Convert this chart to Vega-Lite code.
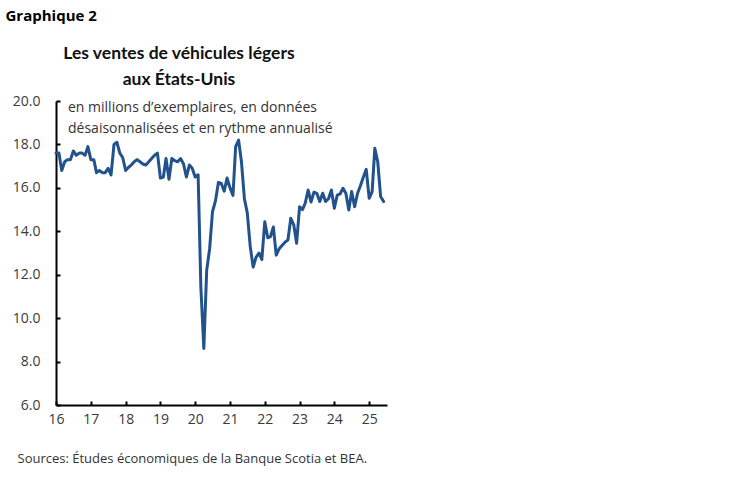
{
  "$schema": "https://vega.github.io/schema/vega-lite/v6.json",
  "width": 331,
  "height": 304,
  "autosize": "none",
  "padding": {"left": 56, "top": 101, "right": 362, "bottom": 77},
  "background": "white",
  "title": {
    "text": ["Les ventes de véhicules légers", "aux États-Unis"],
    "anchor": "start",
    "align": "center",
    "dx": 174,
    "dy": 94,
    "offset": 14,
    "font": "Lato",
    "fontSize": 17.5,
    "fontWeight": "bold",
    "color": "#111111",
    "lineHeight": 26
  },
  "layer": [
    {
      "data": {
        "values": [
          {"date": "2016-01-01", "sales": 17.6}, {"date": "2016-02-01", "sales": 17.6}, {"date": "2016-03-01", "sales": 16.8}, {"date": "2016-04-01", "sales": 17.2},
          {"date": "2016-05-01", "sales": 17.3}, {"date": "2016-06-01", "sales": 17.3}, {"date": "2016-07-01", "sales": 17.7}, {"date": "2016-08-01", "sales": 17.5},
          {"date": "2016-09-01", "sales": 17.6}, {"date": "2016-10-01", "sales": 17.6}, {"date": "2016-11-01", "sales": 17.5}, {"date": "2016-12-01", "sales": 17.9},
          {"date": "2017-01-01", "sales": 17.3}, {"date": "2017-02-01", "sales": 17.3}, {"date": "2017-03-01", "sales": 16.7}, {"date": "2017-04-01", "sales": 16.8},
          {"date": "2017-05-01", "sales": 16.7}, {"date": "2017-06-01", "sales": 16.7}, {"date": "2017-07-01", "sales": 16.9}, {"date": "2017-08-01", "sales": 16.6},
          {"date": "2017-09-01", "sales": 18.0}, {"date": "2017-10-01", "sales": 18.1}, {"date": "2017-11-01", "sales": 17.6}, {"date": "2017-12-01", "sales": 17.4},
          {"date": "2018-01-01", "sales": 16.8}, {"date": "2018-02-01", "sales": 16.95}, {"date": "2018-03-01", "sales": 17.05}, {"date": "2018-04-01", "sales": 17.2},
          {"date": "2018-05-01", "sales": 17.3}, {"date": "2018-06-01", "sales": 17.2}, {"date": "2018-07-01", "sales": 17.1}, {"date": "2018-08-01", "sales": 17.05},
          {"date": "2018-09-01", "sales": 17.2}, {"date": "2018-10-01", "sales": 17.35}, {"date": "2018-11-01", "sales": 17.5}, {"date": "2018-12-01", "sales": 17.6},
          {"date": "2019-01-01", "sales": 16.45}, {"date": "2019-02-01", "sales": 16.5}, {"date": "2019-03-01", "sales": 17.35}, {"date": "2019-04-01", "sales": 16.4},
          {"date": "2019-05-01", "sales": 17.35}, {"date": "2019-06-01", "sales": 17.25}, {"date": "2019-07-01", "sales": 17.2}, {"date": "2019-08-01", "sales": 17.35},
          {"date": "2019-09-01", "sales": 17.1}, {"date": "2019-10-01", "sales": 16.5}, {"date": "2019-11-01", "sales": 17.05}, {"date": "2019-12-01", "sales": 16.9},
          {"date": "2020-01-01", "sales": 16.5}, {"date": "2020-02-01", "sales": 16.6}, {"date": "2020-03-01", "sales": 11.4}, {"date": "2020-04-01", "sales": 8.6},
          {"date": "2020-05-01", "sales": 12.2}, {"date": "2020-06-01", "sales": 13.2}, {"date": "2020-07-01", "sales": 14.9}, {"date": "2020-08-01", "sales": 15.4},
          {"date": "2020-09-01", "sales": 16.25}, {"date": "2020-10-01", "sales": 16.2}, {"date": "2020-11-01", "sales": 15.85}, {"date": "2020-12-01", "sales": 16.45},
          {"date": "2021-01-01", "sales": 16.0}, {"date": "2021-02-01", "sales": 15.65}, {"date": "2021-03-01", "sales": 17.9}, {"date": "2021-04-01", "sales": 18.2},
          {"date": "2021-05-01", "sales": 17.2}, {"date": "2021-06-01", "sales": 15.5}, {"date": "2021-07-01", "sales": 14.85}, {"date": "2021-08-01", "sales": 13.3},
          {"date": "2021-09-01", "sales": 12.35}, {"date": "2021-10-01", "sales": 12.8}, {"date": "2021-11-01", "sales": 13.0}, {"date": "2021-12-01", "sales": 12.7},
          {"date": "2022-01-01", "sales": 14.44}, {"date": "2022-02-01", "sales": 13.7}, {"date": "2022-03-01", "sales": 13.75}, {"date": "2022-04-01", "sales": 14.2},
          {"date": "2022-05-01", "sales": 12.9}, {"date": "2022-06-01", "sales": 13.2}, {"date": "2022-07-01", "sales": 13.35}, {"date": "2022-08-01", "sales": 13.5},
          {"date": "2022-09-01", "sales": 13.6}, {"date": "2022-10-01", "sales": 14.6}, {"date": "2022-11-01", "sales": 14.3}, {"date": "2022-12-01", "sales": 13.45},
          {"date": "2023-01-01", "sales": 15.13}, {"date": "2023-02-01", "sales": 15.0}, {"date": "2023-03-01", "sales": 15.29}, {"date": "2023-04-01", "sales": 15.9},
          {"date": "2023-05-01", "sales": 15.35}, {"date": "2023-06-01", "sales": 15.8}, {"date": "2023-07-01", "sales": 15.75}, {"date": "2023-08-01", "sales": 15.37},
          {"date": "2023-09-01", "sales": 15.75}, {"date": "2023-10-01", "sales": 15.37}, {"date": "2023-11-01", "sales": 15.5}, {"date": "2023-12-01", "sales": 15.9},
          {"date": "2024-01-01", "sales": 15.06}, {"date": "2024-02-01", "sales": 15.67}, {"date": "2024-03-01", "sales": 15.72}, {"date": "2024-04-01", "sales": 15.98},
          {"date": "2024-05-01", "sales": 15.75}, {"date": "2024-06-01", "sales": 14.98}, {"date": "2024-07-01", "sales": 15.83}, {"date": "2024-08-01", "sales": 15.13},
          {"date": "2024-09-01", "sales": 15.75}, {"date": "2024-10-01", "sales": 16.1}, {"date": "2024-11-01", "sales": 16.5}, {"date": "2024-12-01", "sales": 16.85},
          {"date": "2025-01-01", "sales": 15.52}, {"date": "2025-02-01", "sales": 15.83}, {"date": "2025-03-01", "sales": 17.82}, {"date": "2025-04-01", "sales": 17.2},
          {"date": "2025-05-01", "sales": 15.6}, {"date": "2025-06-01", "sales": 15.37}
        ]
      },
      "mark": {"type": "line", "color": "#22528c", "strokeWidth": 3, "strokeJoin": "round", "strokeCap": "round"},
      "encoding": {
        "x": {
          "field": "date",
          "type": "temporal",
          "scale": {"domain": [{"year": 2016, "month": 1, "date": 1}, {"year": 2025, "month": 7, "date": 7}]},
          "axis": {
            "format": "%y",
            "tickCount": {"interval": "year", "step": 1},
            "labelFlush": false,
            "labelPadding": 11,
            "title": "Sources: Études économiques de la Banque Scotia et BEA.",
            "titleAnchor": "start",
            "titleAlign": "left",
            "titleBaseline": "alphabetic",
            "titleX": -39,
            "titleY": 57,
            "titleFontSize": 13,
            "titleFontWeight": "normal",
            "titleColor": "#333333"
          }
        },
        "y": {
          "field": "sales",
          "type": "quantitative",
          "scale": {"domain": [6, 20], "nice": false, "zero": false},
          "axis": {
            "values": [6, 8, 10, 12, 14, 16, 18, 20],
            "format": ".1f",
            "labelPadding": 20,
            "title": "Graphique 2",
            "titleAngle": 0,
            "titleAlign": "left",
            "titleBaseline": "alphabetic",
            "titleX": -51,
            "titleY": -81,
            "titleFontSize": 15,
            "titleFontWeight": "bold",
            "titleColor": "#000000"
          }
        }
      }
    },
    {
      "data": {
        "values": [
          {"date": "2016-05-06", "level": 19.5, "note": "en millions d’exemplaires, en données\ndésaisonnalisées et en rythme annualisé"}
        ]
      },
      "mark": {"type": "text", "align": "left", "baseline": "alphabetic", "lineBreak": "\n", "lineHeight": 21, "font": "Open Sans", "fontSize": 14, "color": "#333333"},
      "encoding": {
        "x": {"field": "date", "type": "temporal"},
        "y": {"field": "level", "type": "quantitative"},
        "text": {"field": "note"}
      }
    }
  ],
  "config": {
    "view": {"stroke": null},
    "font": "Open Sans",
    "axis": {
      "grid": false,
      "domainColor": "#000000",
      "domainWidth": 2,
      "tickColor": "#000000",
      "tickWidth": 2,
      "tickSize": -4,
      "labelFont": "Open Sans",
      "labelFontSize": 14,
      "labelColor": "#3a3a3a",
      "titleFont": "Open Sans"
    }
  }
}
